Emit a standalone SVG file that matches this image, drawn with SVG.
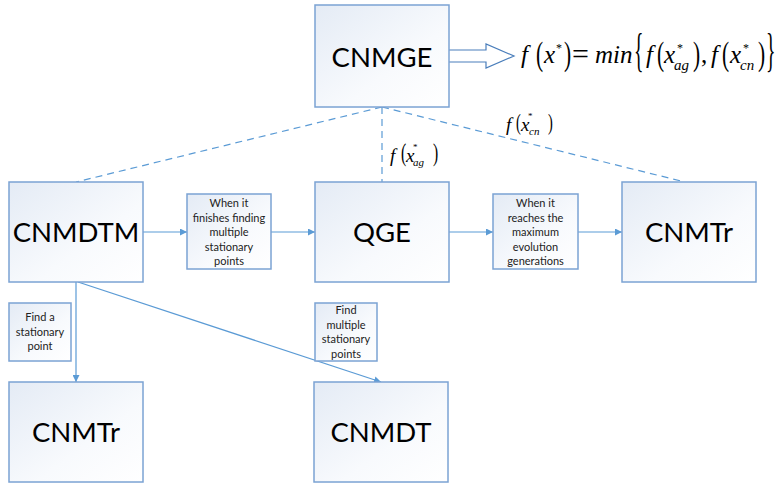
<svg xmlns="http://www.w3.org/2000/svg" width="779" height="484" viewBox="0 0 779 484">
<defs>
<linearGradient id="g" x1="0" y1="0" x2="1" y2="1">
<stop offset="0" stop-color="#e4ebf5"/>
<stop offset="0.6" stop-color="#f8fafd"/>
<stop offset="1" stop-color="#ffffff"/>
</linearGradient>
<marker id="ah" viewBox="0 0 10 10" refX="10" refY="5" markerWidth="7" markerHeight="7" markerUnits="userSpaceOnUse" orient="auto">
<path d="M0,0 L10,5 L0,10 z" fill="#5b9bd5"/>
</marker>
</defs>
<style>
.box{fill:url(#g);stroke:#7ba3d3;stroke-width:1.5}
.big{font-family:Lato,"Liberation Sans",sans-serif;font-size:27.5px;fill:#000;text-anchor:middle}
.sm{font-family:Lato,"Liberation Sans",sans-serif;font-size:11px;fill:#222;text-anchor:middle}
.ln{stroke:#5b9bd5;stroke-width:1.2;fill:none}
.dash{stroke:#5b9bd5;stroke-width:1.2;fill:none;stroke-dasharray:7,5}
.m{font-family:"Liberation Serif","Times New Roman",serif;font-style:italic;fill:#000}
.mp{font-family:"Liberation Serif","Times New Roman",serif;fill:#000}
</style>
<g id="connectors">
<line class="dash" x1="382" y1="107" x2="76" y2="182"/>
<line class="dash" x1="382" y1="107" x2="382" y2="182"/>
<line class="dash" x1="382" y1="107" x2="685" y2="182"/>
<line class="ln" x1="143" y1="232" x2="187" y2="232" marker-end="url(#ah)"/>
<line class="ln" x1="271" y1="232" x2="315" y2="232" marker-end="url(#ah)"/>
<line class="ln" x1="449" y1="232" x2="493" y2="232" marker-end="url(#ah)"/>
<line class="ln" x1="578" y1="232" x2="622" y2="232" marker-end="url(#ah)"/>
<line class="ln" x1="76" y1="282" x2="76" y2="382" marker-end="url(#ah)"/>
<line class="ln" x1="78" y1="282" x2="381" y2="382" marker-end="url(#ah)"/>
<path d="M449,50 L486,50 L486,44 L514,56 L486,68 L486,62 L449,62" fill="#fff" stroke="#4a7ebb" stroke-width="1.2"/>
</g>
<g id="formula">
<text class="m" x="521" y="63" font-size="25">f</text>
<text class="mp" font-size="33" transform="translate(536,65) scale(0.65,1)">(</text>
<text class="m" x="544" y="63" font-size="25">x</text>
<text class="mp" x="556" y="52" font-size="12">*</text>
<text class="mp" font-size="33" transform="translate(564,65) scale(0.65,1)">)</text>
<text class="mp" x="572" y="64" font-size="30">=</text>
<text class="m" x="595" y="63" font-size="25">min</text>
<text class="mp" font-size="47" transform="translate(634,66) scale(0.42,1)">{</text>
<text class="m" x="646" y="63" font-size="25">f</text>
<text class="mp" font-size="33" transform="translate(657,65) scale(0.65,1)">(</text>
<text class="m" x="664" y="63" font-size="25">x</text>
<text class="mp" x="677" y="52" font-size="12">*</text>
<text class="m" x="674" y="70" font-size="15">ag</text>
<text class="mp" font-size="33" transform="translate(693,65) scale(0.65,1)">)</text>
<text class="mp" x="701" y="63" font-size="25">,</text>
<text class="m" x="711" y="63" font-size="25">f</text>
<text class="mp" font-size="33" transform="translate(722,65) scale(0.65,1)">(</text>
<text class="m" x="730" y="63" font-size="25">x</text>
<text class="mp" x="743" y="52" font-size="12">*</text>
<text class="m" x="740" y="70" font-size="15">cn</text>
<text class="mp" font-size="33" transform="translate(758,65) scale(0.65,1)">)</text>
<text class="mp" font-size="47" transform="translate(766,66) scale(0.42,1)">}</text>
</g>
<g id="label-ag">
<text class="m" x="390" y="162" font-size="19">f</text>
<text class="mp" font-size="26" transform="translate(401,161) scale(0.6,1)">(</text>
<text class="m" x="406" y="162" font-size="19">x</text>
<text class="mp" x="413" y="150" font-size="9">*</text>
<text class="m" x="413" y="166" font-size="11">ag</text>
<text class="mp" font-size="26" transform="translate(433,161) scale(0.6,1)">)</text>
</g>
<g id="label-cn">
<text class="m" x="506" y="131" font-size="19">f</text>
<text class="mp" font-size="24" transform="translate(516,130) scale(0.6,1)">(</text>
<text class="m" x="521" y="131" font-size="19">x</text>
<text class="mp" x="528" y="119" font-size="9">*</text>
<text class="m" x="529" y="135" font-size="11">cn</text>
<text class="mp" font-size="24" transform="translate(548,130) scale(0.6,1)">)</text>
</g>
<g id="CNMGE"><rect class="box" x="315" y="5" width="134" height="102"/><text class="big" x="382" y="67">CNMGE</text></g>
<g id="CNMDTM"><rect class="box" x="9" y="182" width="134" height="100"/><text class="big" x="76" y="242">CNMDTM</text></g>
<g id="QGE"><rect class="box" x="315" y="182" width="134" height="100"/><text class="big" x="382" y="242">QGE</text></g>
<g id="CNMTr-right"><rect class="box" x="622" y="182" width="134" height="100"/><text class="big" x="689" y="242">CNMTr</text></g>
<g id="CNMTr-bottom"><rect class="box" x="9" y="382" width="134" height="100"/><text class="big" x="76" y="442">CNMTr</text></g>
<g id="CNMDT"><rect class="box" x="314" y="382" width="134" height="100"/><text class="big" x="381" y="442">CNMDT</text></g>
<g id="label-finishes"><rect class="box" x="187" y="194" width="84" height="75" stroke-width="1.2"/>
<text class="sm" x="229" y="207">When it</text><text class="sm" x="229" y="221.5">finishes finding</text><text class="sm" x="229" y="236">multiple</text><text class="sm" x="229" y="250.5">stationary</text><text class="sm" x="229" y="265">points</text></g>
<g id="label-reaches"><rect class="box" x="493" y="194" width="85" height="75" stroke-width="1.2"/>
<text class="sm" x="535.5" y="207">When it</text><text class="sm" x="535.5" y="221.5">reaches the</text><text class="sm" x="535.5" y="236">maximum</text><text class="sm" x="535.5" y="250.5">evolution</text><text class="sm" x="535.5" y="265">generations</text></g>
<g id="label-find-one"><rect class="box" x="9" y="303" width="62" height="58" stroke-width="1.2"/>
<text class="sm" x="40" y="321">Find a</text><text class="sm" x="40" y="335.5">stationary</text><text class="sm" x="40" y="350">point</text></g>
<g id="label-find-multi"><rect class="box" x="315" y="303" width="62" height="58" stroke-width="1.2"/>
<text class="sm" x="346" y="314">Find</text><text class="sm" x="346" y="328.5">multiple</text><text class="sm" x="346" y="343">stationary</text><text class="sm" x="346" y="357.5">points</text></g>
</svg>
